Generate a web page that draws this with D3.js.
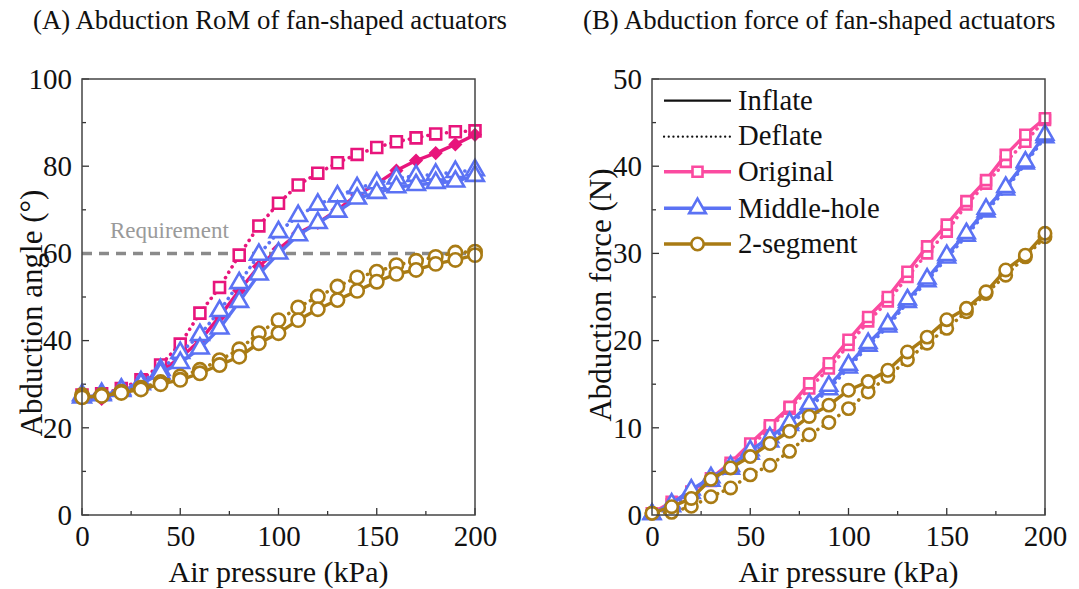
<!DOCTYPE html>
<html><head><meta charset="utf-8">
<script src="https://cdn.jsdelivr.net/npm/d3@7"></script>
<style>body{margin:0;background:#fff;} svg{display:block;}</style></head>
<body>
<svg id="chart" width="1079" height="589"></svg>
<script>
// ---------- data ----------
const pressure = [0,10,20,30,40,50,60,70,80,90,100,110,120,130,140,150,160,170,180,190,200];

// Panel A: abduction angle (deg)
const angleOriginalInflate = [26.8,26.6,28.5,30.0,33.0,36.0,40.0,45.5,51.5,57.0,61.0,64.6,67.0,70.0,73.4,76.0,79.0,81.3,83.0,85.0,87.2];
const angleOriginalDeflate = [27.5,27.8,29.0,31.0,34.4,39.2,46.3,52.2,59.6,66.3,71.5,75.7,78.4,80.8,82.7,84.3,85.6,86.5,87.4,87.9,88.1];
const angleMiddleInflate   = [27.0,27.5,28.5,30.0,32.5,34.9,38.2,42.8,48.9,55.2,60.0,64.2,67.0,69.6,72.6,73.9,75.2,75.7,76.2,76.5,77.8];
const angleMiddleDeflate   = [27.5,27.8,28.8,30.5,33.3,37.2,41.3,46.8,53.2,59.7,64.9,68.6,71.2,73.1,75.0,76.1,77.2,77.8,78.1,78.7,79.1];
const angleSegmentInflate  = [27.0,27.3,28.0,28.8,30.0,31.0,32.5,34.4,36.3,39.4,41.7,44.7,47.2,49.3,51.4,53.5,55.3,56.2,57.6,58.5,59.6];
const angleSegmentDeflate  = [27.5,27.5,28.3,29.2,30.5,31.8,33.3,35.5,38.0,41.7,44.7,47.6,50.1,52.4,54.5,55.8,57.3,58.3,59.2,60.2,60.4];
const requirementAngle = 60;

// Panel B: abduction force (N)
const forceOriginalInflate = [0.2,1.5,2.7,4.2,6.0,8.2,10.3,12.4,15.1,17.4,20.1,22.7,25.0,27.9,30.8,33.3,36.0,38.4,41.3,43.6,45.5];
const forceOriginalDeflate = [0.2,1.2,2.5,3.9,5.7,7.8,10.0,12.2,14.5,16.8,19.5,22.2,24.5,27.3,30.0,32.5,35.6,38.0,40.5,42.8,45.3];
const forceMiddleInflate   = [0.1,1.3,2.9,4.3,5.6,7.4,8.9,10.6,12.7,14.8,17.2,19.7,21.9,24.7,27.1,29.8,32.3,35.1,37.6,40.5,43.6];
const forceMiddleDeflate   = [0.1,1.0,2.5,3.9,5.3,7.0,8.4,10.3,12.3,14.4,16.9,19.4,21.6,24.4,26.8,29.5,32.0,34.8,37.3,40.3,43.3];
const forceSegmentInflate  = [0.2,0.95,1.9,4.1,5.4,6.7,8.2,9.6,11.3,12.6,14.3,15.3,16.6,18.7,20.4,22.4,23.7,25.6,28.1,29.8,32.3];
const forceSegmentDeflate  = [0.2,0.3,1.0,2.1,3.1,4.6,5.7,7.3,9.2,10.6,12.2,14.1,15.9,17.8,19.7,21.4,23.3,25.4,27.5,29.6,31.9];

const xTicks = [0,50,100,150,200];
const angleTicks = [0,20,40,60,80,100];
const forceTicks = [0,10,20,30,40,50];
const legendLabels = ["Inflate","Deflate","Original","Middle-hole","2-segment"];
const titles = ["(A)  Abduction RoM of fan-shaped actuators","(B) Abduction force of fan-shaped actuators"];

// ---------- drawing ----------
const FONT = "'Liberation Serif'";
const svg = d3.select("#chart");
const colA = {orig:"#e8157c", mid:"#5b72f4", seg:"#a97b14"};
const colB = {orig:"#fb4aa0", mid:"#5b72f4", seg:"#a97b14"};

function txt(sel){ return sel.style("font-family",FONT); }

function panel(opt){
  const g = svg.append("g");
  const x = d3.scaleLinear().domain([0,200]).range([opt.left,opt.right]);
  const y = d3.scaleLinear().domain([0,opt.ymax]).range([515,79]);

  const xMinor = d3.range(0,201,25);
  g.selectAll(null).data(xMinor).join("line")
    .attr("x1",d=>x(d)).attr("x2",d=>x(d))
    .attr("y1",515).attr("y2",d=>d%50===0?508:511)
    .attr("stroke","#333").attr("stroke-width",1.3);
  const yMinor = d3.range(0,opt.ymax+0.001,opt.ymax/10);
  g.selectAll(null).data(yMinor).join("line")
    .attr("y1",d=>y(d)).attr("y2",d=>y(d))
    .attr("x1",opt.left).attr("x2",(d,i)=>i%2===0?opt.left+7:opt.left+4)
    .attr("stroke","#333").attr("stroke-width",1.3);

  const xAxis = g.append("g").attr("transform","translate(0,515)")
    .call(d3.axisBottom(x).tickValues(xTicks).tickSize(0).tickPadding(10));
  xAxis.attr("font-family",null);
  xAxis.select(".domain").remove();
  txt(xAxis.selectAll("text")).attr("font-size",29).attr("fill","#111");
  const yAxis = g.append("g").attr("transform",`translate(${opt.left},0)`)
    .call(d3.axisLeft(y).tickValues(opt.yTicks).tickSize(0).tickPadding(10));
  yAxis.attr("font-family",null);
  yAxis.select(".domain").remove();
  txt(yAxis.selectAll("text")).attr("font-size",29).attr("fill","#111");

  txt(g.append("text")).attr("x",(opt.left+opt.right)/2).attr("y",582)
    .attr("text-anchor","middle").attr("font-size",30).attr("fill","#111")
    .text("Air pressure (kPa)");
  txt(g.append("text")).attr("transform",`translate(${opt.ylabX},${opt.ylabY}) rotate(-90)`)
    .attr("text-anchor","middle").attr("font-size",31).attr("fill","#111")
    .text(opt.ylab);
  txt(g.append("text")).attr("x",opt.titleX).attr("y",29)
    .attr("font-size",26.8).attr("fill","#111").text(opt.title);

  const plot = g.append("g");
  if(opt.requirement!==undefined){
    plot.append("line").attr("x1",x(0)).attr("x2",x(200))
      .attr("y1",y(opt.requirement)).attr("y2",y(opt.requirement))
      .attr("stroke","#8a8a8a").attr("stroke-width",3.5).attr("stroke-dasharray","10,7");
    txt(plot.append("text")).attr("x",110).attr("y",238)
      .attr("font-size",23).attr("fill","#9a9a9a").text("Requirement");
  }

  const line = d3.line().x((d,i)=>x(pressure[i])).y(d=>y(d));
  opt.series.forEach(s=>{
    plot.append("path").datum(s.values).attr("d",line)
      .attr("fill","none").attr("stroke",s.color).attr("stroke-width",s.dotted?3.6:3.4)
      .attr("stroke-linecap","round").attr("stroke-linejoin","round")
      .attr("stroke-dasharray",s.dotted?"0.1,6.2":null);
    const sym = d3.symbol().type(s.shape).size(s.size);
    plot.selectAll(null).data(s.values).join("path")
      .attr("transform",(d,i)=>`translate(${x(pressure[i])},${y(d)})${s.rotate?" rotate(45)":""}`)
      .attr("d",sym)
      .attr("fill",s.filled?s.color:"#fff").attr("stroke",s.color).attr("stroke-width",2.6);
  });

  g.append("rect").attr("x",opt.left).attr("y",79)
    .attr("width",opt.right-opt.left).attr("height",436)
    .attr("fill","none").attr("stroke","#444").attr("stroke-width",1.5);
  return {g,x,y};
}

const SQ = d3.symbolSquare, TR = d3.symbolTriangle, CI = d3.symbolCircle;

panel({
  left:82,right:475,ymax:100,yTicks:angleTicks,
  ylab:"Abduction angle (°)",ylabX:42,ylabY:313,
  title:titles[0],titleX:33,requirement:requirementAngle,
  series:[
    {values:angleOriginalDeflate,color:colA.orig,dotted:true,shape:SQ,size:120},
    {values:angleOriginalInflate,color:colA.orig,dotted:false,shape:SQ,size:55,filled:true,rotate:true},
    {values:angleMiddleDeflate,color:colA.mid,dotted:true,shape:TR,size:135},
    {values:angleMiddleInflate,color:colA.mid,dotted:false,shape:TR,size:135},
    {values:angleSegmentDeflate,color:colA.seg,dotted:true,shape:CI,size:140},
    {values:angleSegmentInflate,color:colA.seg,dotted:false,shape:CI,size:140}
  ]
});

panel({
  left:652,right:1045,ymax:50,yTicks:forceTicks,
  ylab:"Abduction force (N)",ylabX:611,ylabY:295,
  title:titles[1],titleX:583,
  series:[
    {values:forceOriginalDeflate,color:colB.orig,dotted:true,shape:SQ,size:100},
    {values:forceOriginalInflate,color:colB.orig,dotted:false,shape:SQ,size:100},
    {values:forceMiddleDeflate,color:colB.mid,dotted:true,shape:TR,size:120},
    {values:forceMiddleInflate,color:colB.mid,dotted:false,shape:TR,size:120},
    {values:forceSegmentDeflate,color:colB.seg,dotted:true,shape:CI,size:120},
    {values:forceSegmentInflate,color:colB.seg,dotted:false,shape:CI,size:120}
  ]
});

// legend (panel B)
const leg = svg.append("g");
const legRows = [
  {label:legendLabels[0],color:"#111",dotted:false},
  {label:legendLabels[1],color:"#111",dotted:true},
  {label:legendLabels[2],color:colB.orig,shape:SQ,size:100},
  {label:legendLabels[3],color:colB.mid,shape:TR,size:120},
  {label:legendLabels[4],color:colB.seg,shape:CI,size:120}
];
const legLineY = [100.7,136.7,171.7,208.3,244];
const legTextY = [109.5,145,181,217.5,253];
legRows.forEach((r,i)=>{
  const isStyle = i<2;
  leg.append("line").attr("x1",664).attr("x2",731).attr("y1",legLineY[i]).attr("y2",legLineY[i])
    .attr("stroke",r.color).attr("stroke-width",isStyle?2.2:3.6)
    .attr("stroke-linecap",r.dotted?"round":"butt")
    .attr("stroke-dasharray",r.dotted?"0.1,4.6":null);
  if(r.shape){
    leg.append("path").attr("transform",`translate(697.5,${legLineY[i]})`)
      .attr("d",d3.symbol().type(r.shape).size(r.size))
      .attr("fill","#fff").attr("stroke",r.color).attr("stroke-width",2.6);
  }
  txt(leg.append("text")).attr("x",738).attr("y",legTextY[i]).attr("font-size",28.7)
    .attr("fill","#111").text(r.label);
});
</script>
</body></html>
